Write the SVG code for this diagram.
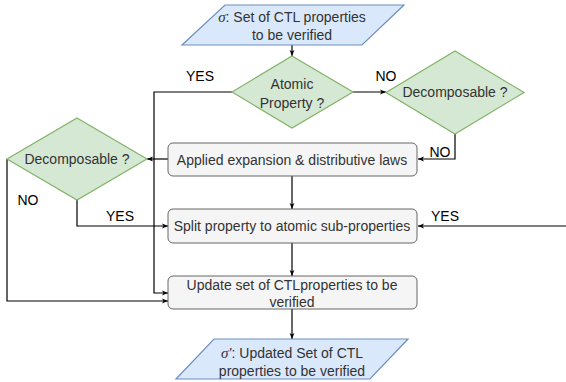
<svg xmlns="http://www.w3.org/2000/svg" width="566" height="382" viewBox="0 0 566 382">
<style>
.io{fill:#dae8fc;stroke:#6c8ebf;stroke-width:1.2}
.dec{fill:#d5e8d4;stroke:#82b366;stroke-width:1.2}
.box{fill:#f5f5f5;stroke:#666666;stroke-width:1}
.t{font-family:"Liberation Sans",Arial,sans-serif;font-size:14px;fill:#333333;text-anchor:middle}
.tb{font-family:"Liberation Sans",Arial,sans-serif;font-size:14px;fill:#000000;text-anchor:middle}
.sig{font-family:"Liberation Serif",serif;font-style:italic;font-size:15px}
.c{fill:none;stroke:#000000;stroke-width:1.2}
</style>
<defs>
<marker id="a" viewBox="0 0 10 10" refX="10" refY="5" markerWidth="6" markerHeight="6" markerUnits="userSpaceOnUse" orient="auto">
<path d="M0,1 L10,5 L0,9 L2.5,5 Z" fill="#000"/>
</marker>
</defs>
<g id="connectors">
<path class="c" d="M292,45 V56" marker-end="url(#a)"/>
<path class="c" d="M232,92 H154 V293 H168" marker-end="url(#a)"/>
<path class="c" d="M353,92 H386" marker-end="url(#a)"/>
<path class="c" d="M455,134 V159 H418" marker-end="url(#a)"/>
<path class="c" d="M168,159 H147" marker-end="url(#a)"/>
<path class="c" d="M7,159 V301 H168" marker-end="url(#a)"/>
<path class="c" d="M77,200 V226 H168" marker-end="url(#a)"/>
<path class="c" d="M292,176 V209" marker-end="url(#a)"/>
<path class="c" d="M566,226 H418" marker-end="url(#a)"/>
<path class="c" d="M292,243 V276" marker-end="url(#a)"/>
<path class="c" d="M292,309 V339" marker-end="url(#a)"/>
<text class="tb" x="200" y="81">YES</text>
<text class="tb" x="386" y="81">NO</text>
<text class="tb" x="440" y="157">NO</text>
<text class="tb" x="28" y="205">NO</text>
<text class="tb" x="120" y="221">YES</text>
<text class="tb" x="445" y="221">YES</text>
</g>
<g id="input">
<polygon class="io" points="225,5 404,5 362,45 182,45"/>
<text class="t" x="292" y="22"><tspan class="sig">σ</tspan>: Set of CTL properties</text>
<text class="t" x="292" y="40">to be verified</text>
</g>
<g id="atomic">
<polygon class="dec" points="292,56 353,92 292,128 232,92"/>
<text class="t" x="292" y="89">Atomic</text>
<text class="t" x="292" y="108">Property ?</text>
</g>
<g id="decomp-right">
<polygon class="dec" points="455,51 524,92.5 455,134 386,92.5"/>
<text class="t" x="455" y="97">Decomposable ?</text>
</g>
<g id="applied">
<rect class="box" x="168" y="143" width="249" height="33" rx="5"/>
<text class="t" x="292" y="165">Applied expansion &amp; distributive laws</text>
</g>
<g id="decomp-left">
<polygon class="dec" points="77,118 147,159 77,200 7,159"/>
<text class="t" x="77" y="164">Decomposable ?</text>
</g>
<g id="split">
<rect class="box" x="168" y="209" width="249" height="34" rx="5"/>
<text class="t" x="292" y="231">Split property to atomic sub-properties</text>
</g>
<g id="update">
<rect class="box" x="168" y="276" width="249" height="33" rx="5"/>
<text class="t" x="292" y="290">Update set of CTLproperties to be</text>
<text class="t" x="292" y="307">verified</text>
</g>
<g id="output">
<polygon class="io" points="214,339 408,339 370,379 176,379"/>
<text class="t" x="292" y="358"><tspan class="sig">σ′</tspan>: Updated Set of CTL</text>
<text class="t" x="292" y="376">properties to be verified</text>
</g>
</svg>
